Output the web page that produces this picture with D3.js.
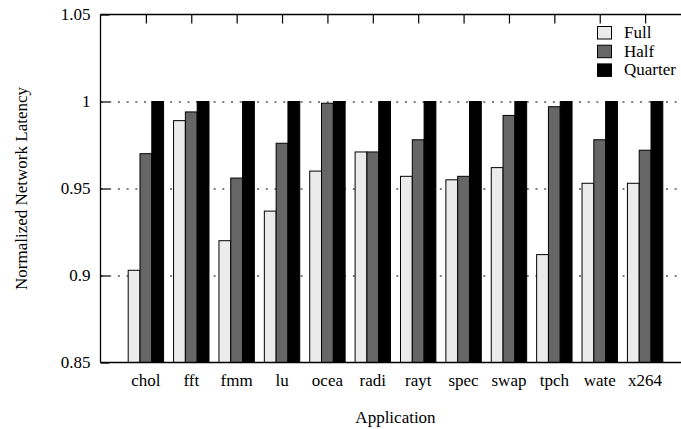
<!DOCTYPE html>
<html>
<head>
<meta charset="utf-8">
<script src="https://cdn.jsdelivr.net/npm/d3@7"></script>
<style>
    body { margin: 0; background: #fff; }
    svg text { font-family: "Liberation Serif", "Times New Roman", serif; font-size: 17px; fill: #000; }
</style>
</head>
<body>
<div id="chart"></div>
<script>
//Datos
const apps = ['chol', 'fft', 'fmm', 'lu', 'ocea', 'radi', 'rayt', 'spec', 'swap', 'tpch', 'wate', 'x264'];
const series = ['Full', 'Half', 'Quarter'];
const full = [0.903, 0.989, 0.920, 0.937, 0.960, 0.971, 0.957, 0.955, 0.962, 0.912, 0.953, 0.953];
const half = [0.970, 0.994, 0.956, 0.976, 0.999, 0.971, 0.978, 0.957, 0.992, 0.997, 0.978, 0.972];
const quarter = [1, 1, 1, 1, 1, 1, 1, 1, 1, 1, 1, 1];
const yTicks = [0.85, 0.9, 0.95, 1, 1.05];
const gridTicks = [0.9, 0.95, 1];

//Colores fijos
const COLORS = ['#ebebeb', '#666666', '#000000'];

let data = apps.map(function(a, i) {
    return { app: a, Full: full[i], Half: half[i], Quarter: quarter[i] };
});

let margin = {top: 14.5, right: 0, bottom: 66.5, left: 100.5},
    width = 590,
    height = 429 - margin.top - margin.bottom;

let svg = d3.select('#chart')
    .append('svg')
        .attr('width', 681)
        .attr('height', 429)
    .append('g')
        .attr('transform', 'translate(' + margin.left + ',' + margin.top + ')');

let x = d3.scaleLinear()
    .domain([0, apps.length + 1])
    .range([0, width]);

let step = x(1) - x(0);

let xSub = d3.scaleBand()
    .domain(series)
    .range([-step * 0.39, step * 0.39])
    .padding(0);

let y = d3.scaleLinear()
    .domain([0.85, 1.05])
    .range([height, 0]);

let color = d3.scaleOrdinal()
    .domain(series)
    .range(COLORS);

//Rejilla punteada
svg.append('g')
    .selectAll('line')
    .data(gridTicks)
    .enter()
    .append('line')
    .attr('x1', 0)
    .attr('x2', width)
    .attr('y1', function(d) { return Math.round(y(d)) + 0.5; })
    .attr('y2', function(d) { return Math.round(y(d)) + 0.5; })
    .attr('stroke', '#000')
    .attr('stroke-width', 1)
    .attr('stroke-dasharray', '2,6.7');

//Barras
svg.append('g')
    .selectAll('g')
    .data(data)
    .enter()
    .append('g')
    .attr('transform', function(d, i) { return 'translate(' + x(i + 1) + ',0)'; })
    .selectAll('rect')
    .data(function(d) { return series.map(function(key) { return {key: key, value: d[key]}; }); })
    .enter()
    .append('rect')
    .attr('x', function(d) { return xSub(d.key); })
    .attr('width', xSub.bandwidth())
    .attr('y', function(d) { return y(d.value); })
    .attr('height', function(d) { return height - y(d.value); })
    .attr('fill', function(d) { return color(d.key); })
    .attr('stroke', '#000')
    .attr('stroke-width', 1);

//Ejes y bordes
svg.append('line')
    .attr('x1', 0).attr('x2', width).attr('y1', 0).attr('y2', 0)
    .attr('stroke', '#000').attr('stroke-width', 1.3);
svg.append('line')
    .attr('x1', 0).attr('x2', width).attr('y1', height).attr('y2', height)
    .attr('stroke', '#000').attr('stroke-width', 1.3);
svg.append('line')
    .attr('x1', 0).attr('x2', 0).attr('y1', 0).attr('y2', height)
    .attr('stroke', '#000').attr('stroke-width', 1.3);

let yAxis = d3.axisLeft(y)
    .tickValues(yTicks)
    .tickFormat(function(d) { return String(+d.toFixed(2)); })
    .tickSizeInner(-9)
    .tickSizeOuter(0)
    .tickPadding(10);

svg.append('g')
    .attr('class', 'yaxis')
    .call(yAxis)
    .attr('font-family', null)
    .attr('font-size', null)
    .call(function(g) { g.select('.domain').remove(); })
    .call(function(g) {
        g.selectAll('.tick line').attr('stroke', '#000').attr('stroke-width', 1.2);
        g.selectAll('.tick text')
            .style('font-family', '"Liberation Serif", serif')
            .style('font-size', '17px');
    });

let xTop = d3.axisTop(x)
    .tickValues(d3.range(1, apps.length + 1))
    .tickFormat('')
    .tickSizeInner(-9)
    .tickSizeOuter(0);

svg.append('g')
    .call(xTop)
    .call(function(g) { g.select('.domain').remove(); })
    .call(function(g) { g.selectAll('.tick line').attr('stroke', '#000').attr('stroke-width', 1.2); });

//Etiquetas de categorías
svg.append('g')
    .selectAll('text')
    .data(apps)
    .enter()
    .append('text')
    .attr('x', function(d, i) { return x(i + 1); })
    .attr('y', height + 23)
    .attr('text-anchor', 'middle')
    .text(function(d) { return d; });

//Títulos de ejes
svg.append('text')
    .attr('x', width / 2)
    .attr('y', height + 60)
    .attr('text-anchor', 'middle')
    .text('Application');

svg.append('text')
    .attr('transform', 'translate(' + (27 - margin.left) + ',' + (height / 2) + ') rotate(-90)')
    .attr('text-anchor', 'middle')
    .text('Normalized Network Latency');

//Leyenda
let legend = svg.append('g')
    .attr('transform', 'translate(497,12)');

let items = legend.selectAll('g')
    .data(series)
    .enter()
    .append('g')
    .attr('transform', function(d, i) { return 'translate(0,' + (i * 18.7) + ')'; });

items.append('rect')
    .attr('x', 0)
    .attr('y', 0)
    .attr('width', 14)
    .attr('height', 12.5)
    .attr('fill', function(d) { return color(d); })
    .attr('stroke', '#000')
    .attr('stroke-width', 1);

items.append('text')
    .attr('x', 26.5)
    .attr('y', 11.5)
    .attr('font-size', '16px')
    .text(function(d) { return d; });
</script>
</body>
</html>
